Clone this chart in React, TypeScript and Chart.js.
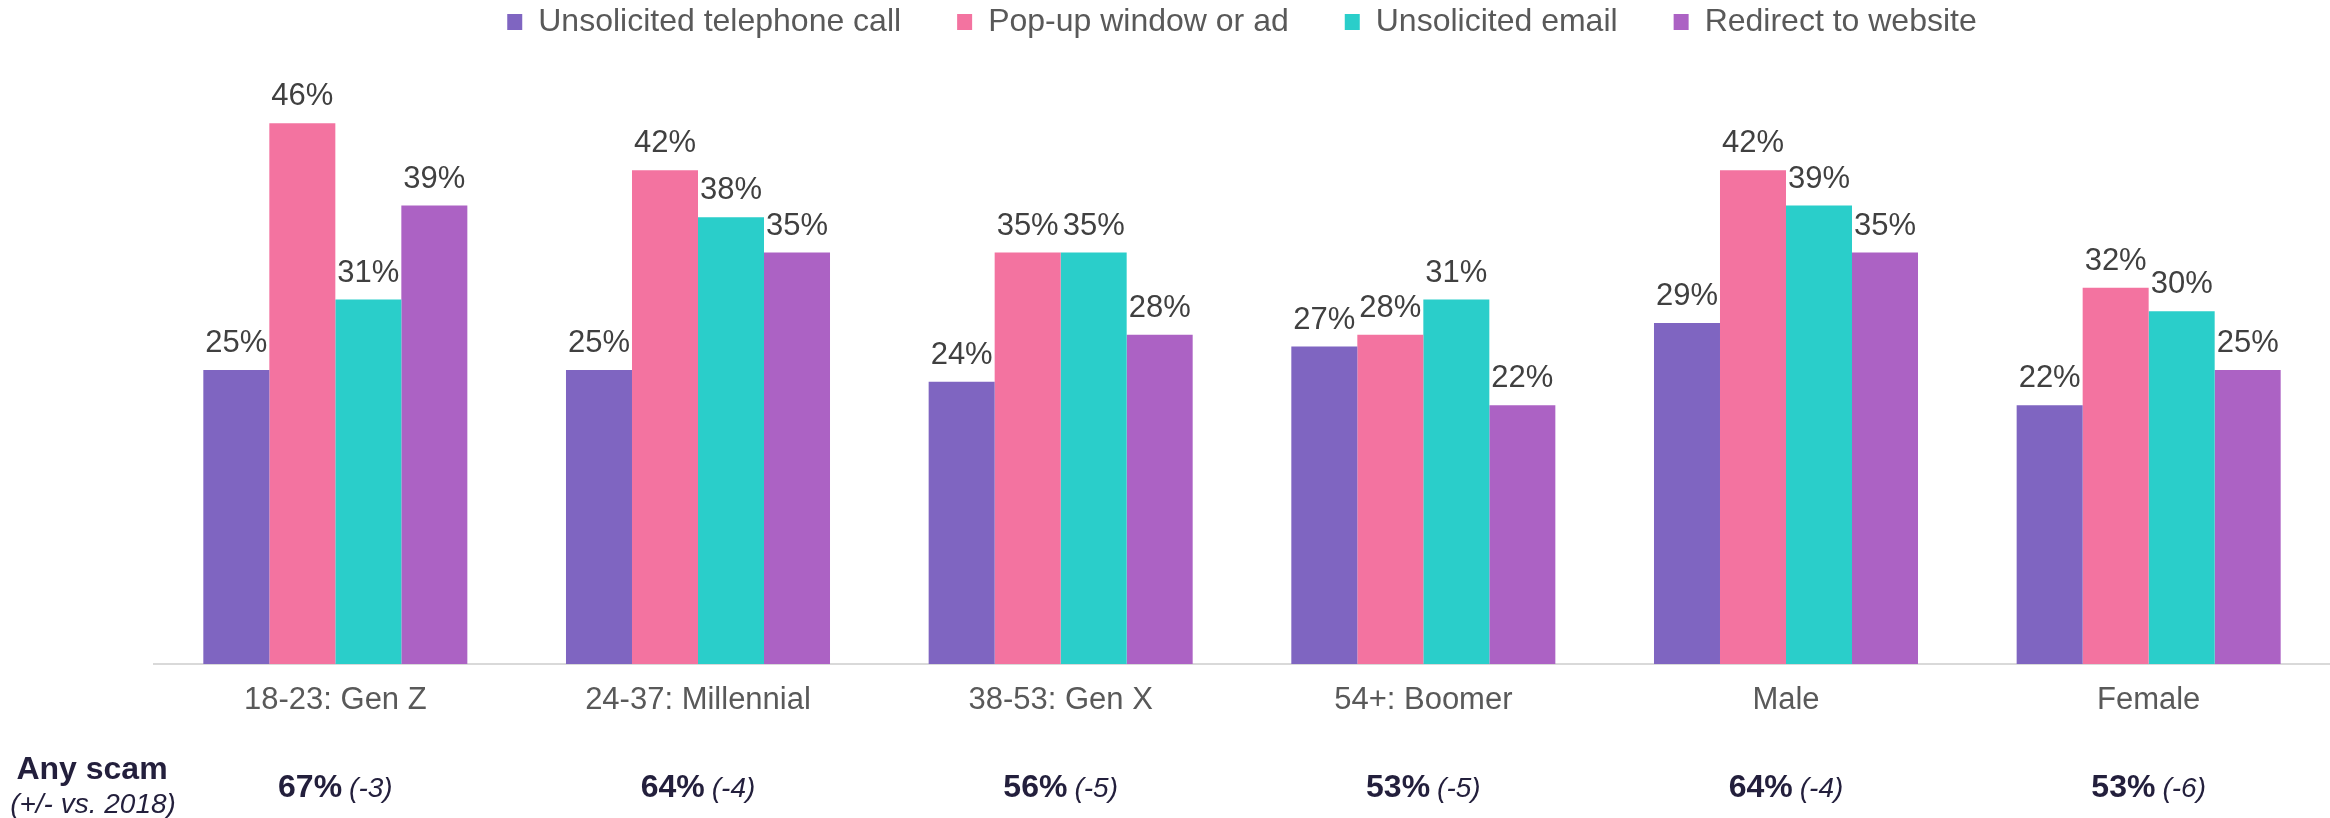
import React, { useEffect, useRef } from "react";
import { Chart, registerables } from "chart.js";

Chart.register(...registerables);

const categories = ["18-23: Gen Z", "24-37: Millennial", "38-53: Gen X", "54+: Boomer", "Male", "Female"];
const seriesNames = ["Unsolicited telephone call", "Pop-up window or ad", "Unsolicited email", "Redirect to website"];
const phoneCall = [25, 25, 24, 27, 29, 22];
const popUp = [46, 42, 35, 28, 42, 32];
const email = [31, 38, 35, 31, 39, 30];
const redirect = [39, 35, 28, 22, 35, 25];
const anyScam = [67, 64, 56, 53, 64, 53];
const changeVs2018 = [-3, -4, -5, -5, -4, -6];
const rowTitle = "Any scam";
const rowSubtitle = "(+/- vs. 2018)";

const colors = ["#7F65C1", "#F373A0", "#2ACECA", "#AC62C4"];
const FONT = "'Liberation Sans', Arial, Helvetica, sans-serif";

const labelsPlugin = {
  id: "customLabels",
  afterDatasetsDraw(chart: any) {
    const ctx = chart.ctx;
    ctx.save();
    ctx.font = `31px ${FONT}`;
    ctx.fillStyle = "#404040";
    ctx.textAlign = "center";
    ctx.textBaseline = "alphabetic";
    chart.data.datasets.forEach((ds: any, di: number) => {
      const meta = chart.getDatasetMeta(di);
      meta.data.forEach((bar: any, i: number) => {
        ctx.fillText(`${ds.data[i]}%`, bar.x, bar.y - 18);
      });
    });
    ctx.restore();
  },
  afterDraw(chart: any) {
    const ctx = chart.ctx;
    const xs = chart.scales.x;
    ctx.save();
    ctx.fillStyle = "#231F3C";
    ctx.textBaseline = "alphabetic";
    ctx.textAlign = "center";
    ctx.font = `bold 32px ${FONT}`;
    ctx.fillText(rowTitle, 92, 779);
    ctx.font = `italic 28px ${FONT}`;
    ctx.fillText(rowSubtitle, 93, 813);
    ctx.textAlign = "left";
    categories.forEach((_, i) => {
      const cx = xs.getPixelForValue(i);
      const a = `${anyScam[i]}%`;
      const b = `(${changeVs2018[i] > 0 ? "+" : ""}${changeVs2018[i]})`;
      ctx.font = `bold 32px ${FONT}`;
      const wa = ctx.measureText(a).width;
      ctx.font = `italic 28px ${FONT}`;
      const wb = ctx.measureText(b).width;
      const gap = 7;
      const start = cx - (wa + gap + wb) / 2;
      ctx.font = `bold 32px ${FONT}`;
      ctx.fillText(a, start, 797);
      ctx.font = `italic 28px ${FONT}`;
      ctx.fillText(b, start + wa + gap, 797);
    });
    ctx.restore();
  },
};

export default function App() {
  const ref = useRef<HTMLCanvasElement | null>(null);
  useEffect(() => {
    document.body.style.margin = "0";
    const canvas = ref.current;
    if (!canvas) return;
    const values = [phoneCall, popUp, email, redirect];
    const chart = new Chart(canvas, {
      type: "bar",
      data: {
        labels: categories,
        datasets: seriesNames.map((name, i) => ({
          label: name,
          data: values[i],
          backgroundColor: colors[i],
          borderWidth: 0,
          categoryPercentage: 0.728,
          barPercentage: 1,
        })),
      },
      options: {
        responsive: false,
        animation: false,
        devicePixelRatio: 1,
        layout: { padding: { left: 154, right: 0, top: -50, bottom: 0 } },
        plugins: {
          legend: {
            display: true,
            position: "top",
            align: "center",
            labels: {
              boxWidth: 15,
              boxHeight: 16,
              padding: 56,
              color: "#595959",
              font: { size: 32, family: FONT },
            },
          },
          tooltip: { enabled: false },
        },
        scales: {
          x: {
            grid: { display: false, drawTicks: false },
            border: { display: true, color: "#D9D9D9", width: 2 },
            ticks: { color: "#595959", font: { size: 31, family: FONT }, padding: 18, maxRotation: 0 },
            afterFit: (s: any) => {
              s.height = 154;
            },
          },
          y: {
            display: false,
            min: 0,
            max: 52.4,
          },
        },
      },
      plugins: [labelsPlugin],
    } as any);
    return () => chart.destroy();
  }, []);
  return (
    <div style={{ width: 2330, height: 818 }}>
      <canvas ref={ref} width={2330} height={818} style={{ display: "block" }} />
    </div>
  );
}
